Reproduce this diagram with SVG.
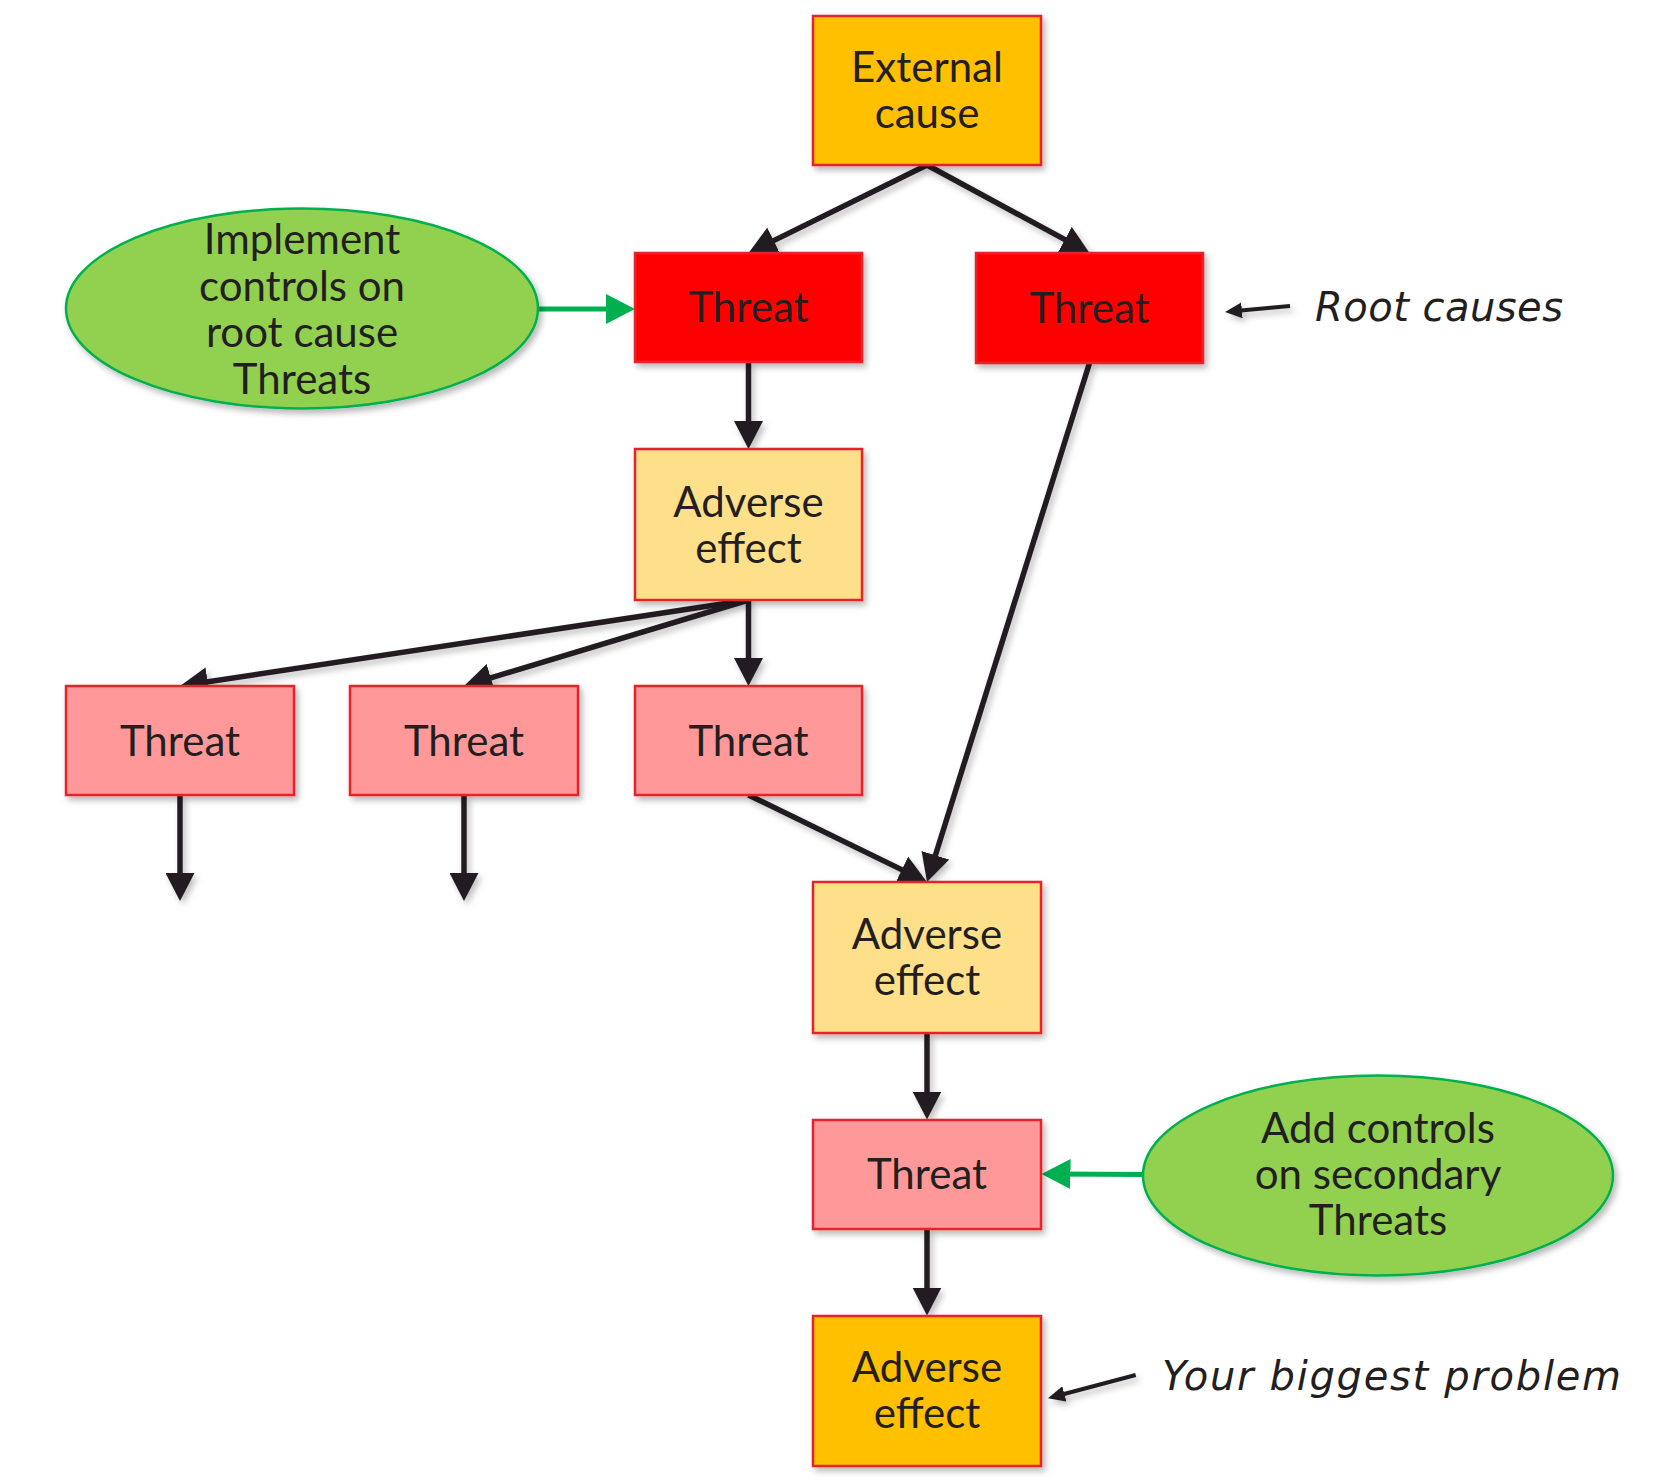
<svg xmlns="http://www.w3.org/2000/svg" width="1670" height="1484" viewBox="0 0 1670 1484">
  <style>
    .box { stroke: #E8222A; stroke-width: 2.5; filter: url(#shadow); }
    .ext { fill: #FFC000; }
    .red { fill: #FF0000; }
    .pink { fill: #FF9999; }
    .adv { fill: #FFE08A; }
    .ell { fill: #92D050; stroke: #00B050; stroke-width: 2.5; filter: url(#shadow); }
    .lbl { font-family: Lato, "Open Sans", "Liberation Sans", sans-serif; font-size: 42px; fill: #231F20; text-anchor: middle; }
    .note { font-family: "DejaVu Sans", "Open Sans", "Liberation Sans", sans-serif; font-size: 40px; font-style: italic; fill: #231F20; }
    .conn { stroke: #231F20; stroke-width: 5.5; fill: none; marker-end: url(#arrow); }
    .green { stroke: #00B050; stroke-width: 5; fill: none; marker-end: url(#garrow); }
    .small { stroke: #231F20; stroke-width: 4; fill: none; marker-end: url(#sarrow); }
  </style>
  <defs>
    <filter id="shadow" x="-20%" y="-20%" width="140%" height="140%">
      <feDropShadow dx="3" dy="4" stdDeviation="3" flood-color="#000" flood-opacity="0.28"/>
    </filter>
    <filter id="lshadow" filterUnits="userSpaceOnUse" x="0" y="0" width="1670" height="1484">
      <feDropShadow dx="3" dy="4" stdDeviation="3" flood-color="#000" flood-opacity="0.25"/>
    </filter>
    <marker id="arrow" markerUnits="userSpaceOnUse" markerWidth="29" markerHeight="29" viewBox="0 0 29 29" refX="18" refY="14.5" orient="auto">
      <path d="M0,0 L28,14.5 L0,29 z" fill="#231F20"/>
    </marker>
    <marker id="garrow" markerUnits="userSpaceOnUse" markerWidth="30" markerHeight="30" viewBox="0 0 30 30" refX="19" refY="15" orient="auto">
      <path d="M0,0 L29,15 L0,30 z" fill="#00B050"/>
    </marker>
    <marker id="sarrow" markerUnits="userSpaceOnUse" markerWidth="18" markerHeight="18" viewBox="0 0 18 18" refX="12" refY="8" orient="auto">
      <path d="M0,0 L17,8 L0,16 z" fill="#231F20"/>
    </marker>
  </defs>

  <g id="connectors">
    <g filter="url(#lshadow)">
      <line class="conn" x1="927" y1="165" x2="757.5" y2="248.6"/>
      <line class="conn" x1="927" y1="165" x2="1080.7" y2="248.2"/>
      <line class="conn" x1="748.5" y1="362" x2="748.5" y2="439"/>
      <line class="conn" x1="748.5" y1="600" x2="189.9" y2="684.5"/>
      <line class="conn" x1="748.5" y1="600" x2="473.6" y2="683.1"/>
      <line class="conn" x1="748.5" y1="600" x2="748.5" y2="676"/>
      <line class="conn" x1="180" y1="795" x2="180" y2="891"/>
      <line class="conn" x1="464" y1="795" x2="464" y2="891"/>
      <line class="conn" x1="748.5" y1="795" x2="918" y2="877.6"/>
      <line class="conn" x1="1089.5" y1="363" x2="930" y2="872.5"/>
      <line class="conn" x1="927" y1="1033" x2="927" y2="1109.5"/>
      <line class="conn" x1="927" y1="1229" x2="927" y2="1305.5"/>
      <line class="small" x1="1290" y1="306" x2="1230" y2="311.5"/>
      <line class="small" x1="1135.7" y1="1375" x2="1052.8" y2="1397"/>
    </g>
    <line class="green" x1="538" y1="309" x2="625" y2="309"/>
    <line class="green" x1="1143" y1="1174.5" x2="1051.5" y2="1174"/>
  </g>

  <g id="external-cause">
    <rect class="box ext" x="813" y="16" width="228" height="149"/>
    <text class="lbl" x="927" y="82">External</text>
    <text class="lbl" x="927" y="128">cause</text>
  </g>

  <g id="threat-root-left">
    <rect class="box red" x="635" y="253" width="227" height="109"/>
    <text class="lbl" x="748.5" y="322">Threat</text>
  </g>

  <g id="threat-root-right">
    <rect class="box red" x="976" y="253" width="227" height="110"/>
    <text class="lbl" x="1089.5" y="323">Threat</text>
  </g>

  <g id="control-root">
    <ellipse class="ell" cx="302" cy="308.5" rx="236" ry="100"/>
    <text class="lbl" x="302" y="254">Implement</text>
    <text class="lbl" x="302" y="300.5">controls on</text>
    <text class="lbl" x="302" y="347">root cause</text>
    <text class="lbl" x="302" y="393.5">Threats</text>
  </g>

  <g id="label-root-causes">
    <text class="note" x="1315" y="321" textLength="248">Root causes</text>
  </g>

  <g id="adverse-1">
    <rect class="box adv" x="635" y="449" width="227" height="151"/>
    <text class="lbl" x="748.5" y="516.5">Adverse</text>
    <text class="lbl" x="748.5" y="562.5">effect</text>
  </g>

  <g id="threat-sec-1">
    <rect class="box pink" x="66" y="686" width="228" height="109"/>
    <text class="lbl" x="180" y="755.5">Threat</text>
  </g>

  <g id="threat-sec-2">
    <rect class="box pink" x="350" y="686" width="228" height="109"/>
    <text class="lbl" x="464" y="755.5">Threat</text>
  </g>

  <g id="threat-sec-3">
    <rect class="box pink" x="635" y="686" width="227" height="109"/>
    <text class="lbl" x="748.5" y="755.5">Threat</text>
  </g>

  <g id="adverse-2">
    <rect class="box adv" x="813" y="882" width="228" height="151"/>
    <text class="lbl" x="927" y="949">Adverse</text>
    <text class="lbl" x="927" y="995">effect</text>
  </g>

  <g id="threat-4">
    <rect class="box pink" x="813" y="1120" width="228" height="109"/>
    <text class="lbl" x="927" y="1189">Threat</text>
  </g>

  <g id="control-secondary">
    <ellipse class="ell" cx="1378" cy="1175.5" rx="235" ry="100"/>
    <text class="lbl" x="1378" y="1143">Add controls</text>
    <text class="lbl" x="1378" y="1189">on secondary</text>
    <text class="lbl" x="1378" y="1235">Threats</text>
  </g>

  <g id="adverse-3">
    <rect class="box ext" x="813" y="1316" width="228" height="150"/>
    <text class="lbl" x="927" y="1382">Adverse</text>
    <text class="lbl" x="927" y="1428">effect</text>
  </g>

  <g id="label-biggest-problem">
    <text class="note" x="1162" y="1390" textLength="459">Your biggest problem</text>
  </g>
</svg>
